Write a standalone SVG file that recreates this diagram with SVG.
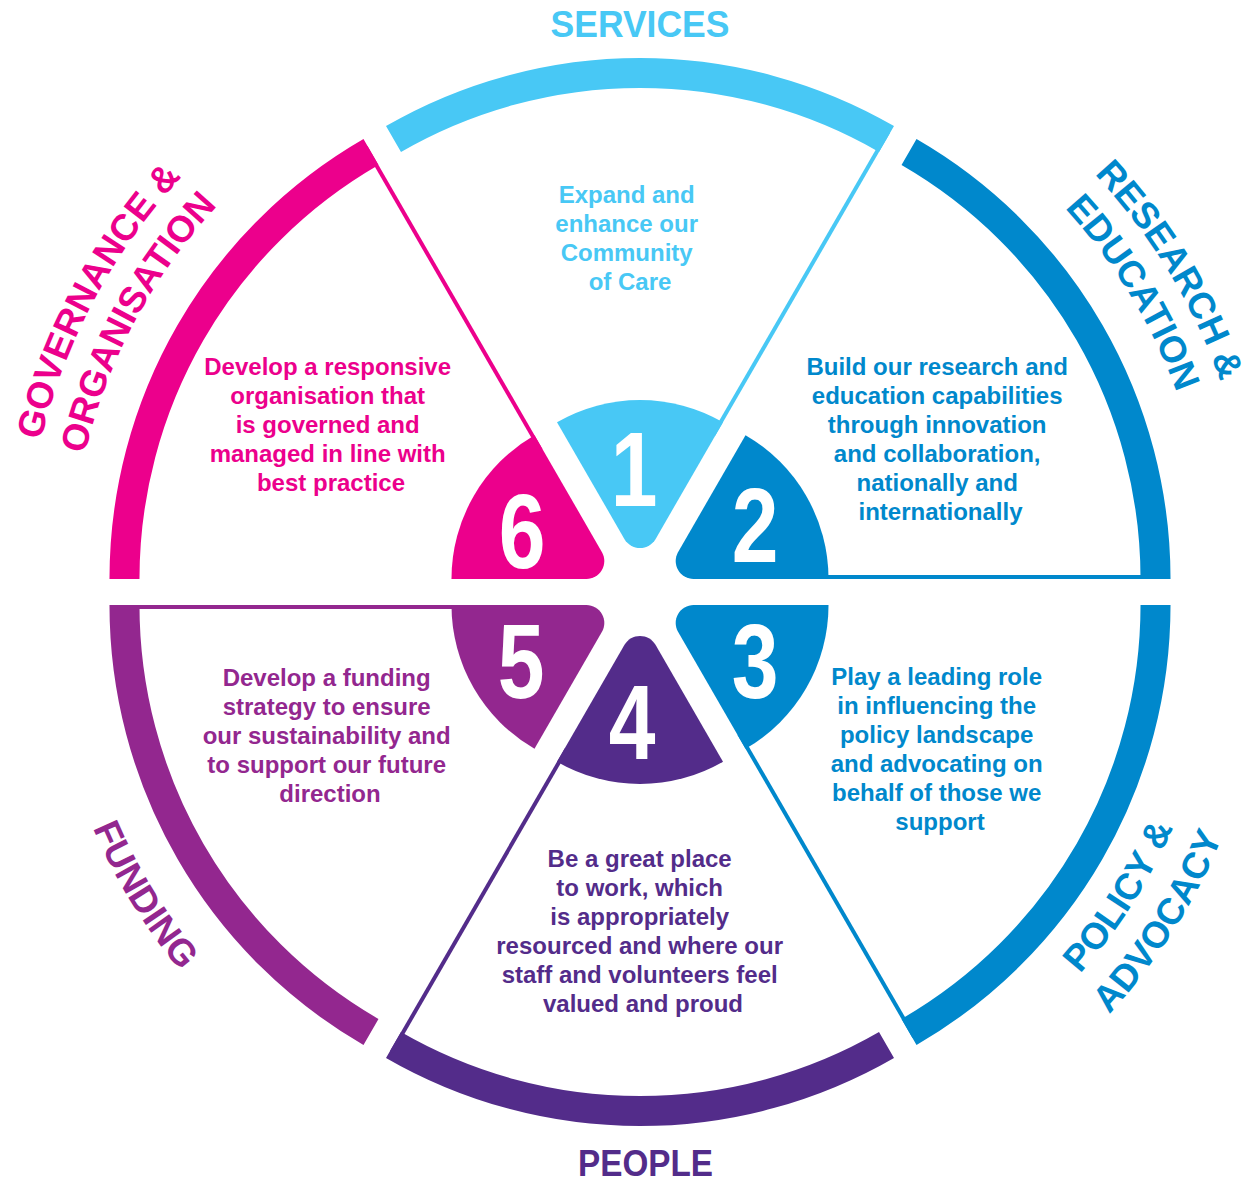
<svg xmlns="http://www.w3.org/2000/svg" xmlns:xlink="http://www.w3.org/1999/xlink" width="1244" height="1179" viewBox="0 0 1244 1179">
<style>
  .arc{fill:none;stroke-width:30}
  .edge{fill:none;stroke-width:4}
  .t{font-family:"Liberation Sans",Arial,sans-serif;font-weight:bold}
  .num{font-size:105px;fill:#ffffff;text-anchor:middle}
  .body{font-size:24px;text-anchor:middle}
  .cat{font-size:37px}
  .c1{fill:#48C8F5}.s1{stroke:#48C8F5}
  .c2{fill:#0088CC}.s2{stroke:#0088CC}
  .c4{fill:#532C8A}.s4{stroke:#532C8A}
  .c5{fill:#93278F}.s5{stroke:#93278F}
  .c6{fill:#EC008C}.s6{stroke:#EC008C}
</style>
<defs>
  <path id="arcShape" d="M-246.5,-426.95 A493,493 0 0 1 246.5,-426.95"/>
  <path id="edgeLine" d="M73.27,-130.9 L248.27,-434"/>
  <path id="numShape" d="M-15.5,-26.85 L-83,-143.76 A166,166 0 0 1 83,-143.76 L15.5,-26.85 A18,18 0 0 1 -15.5,-26.85 Z"/>
  <path id="p-research" d="M946.8,59.8 A592,592 0 0 1 1254.3,565.6"/>
  <path id="p-education" d="M925.2,99.2 A547,547 0 0 1 1209.4,566.6"/>
  <path id="p-governance" d="M24.8,598.7 A593,593 0 0 1 304.2,75.5"/>
  <path id="p-organisation" d="M70.8,597.1 A547,547 0 0 1 328.5,114.6"/>
  <path id="p-policy" d="M919.7,1099.1 A557,557 0 0 0 1219,629.3"/>
  <path id="p-advocacy" d="M942.3,1142.5 A606,606 0 0 0 1267.9,631.4"/>
  <path id="p-funding" d="M47.7,619.9 A570,570 0 0 0 345.5,1105.9"/>
</defs>
<rect width="1244" height="1179" fill="#ffffff"/>

<g id="sector-1">
  <g transform="translate(640,566)">
    <use xlink:href="#arcShape" class="arc s1"/>
    <use xlink:href="#edgeLine" class="edge s1"/>
    <use xlink:href="#numShape" class="c1"/>
  </g>
  <text class="t num" transform="translate(634,506) scale(0.8,1)">1</text>
  <text class="t cat c1" x="640" y="37" text-anchor="middle" textLength="179" lengthAdjust="spacingAndGlyphs">SERVICES</text>
  <text class="t body c1">
    <tspan x="630" y="203">Expand and</tspan>
    <tspan x="630" y="232">enhance our</tspan>
    <tspan x="630" y="261">Community</tspan>
    <tspan x="630" y="290">of Care</tspan>
  </text>
</g>

<g id="sector-2">
  <g transform="translate(662.52,579) rotate(60)">
    <use xlink:href="#arcShape" class="arc s2"/>
    <use xlink:href="#edgeLine" class="edge s2"/>
    <use xlink:href="#numShape" class="c2"/>
  </g>
  <text class="t num" transform="translate(755,562) scale(0.8,1)">2</text>
  <text class="t cat c2" text-anchor="middle"><textPath xlink:href="#p-research" startOffset="50%">RESEARCH &amp;</textPath></text>
  <text class="t cat c2" text-anchor="middle"><textPath xlink:href="#p-education" startOffset="50%">EDUCATION</textPath></text>
  <text class="t body c2">
    <tspan x="940.5" y="375">Build our research and</tspan>
    <tspan x="940.5" y="404">education capabilities</tspan>
    <tspan x="940.5" y="433">through innovation</tspan>
    <tspan x="940.5" y="462">and collaboration,</tspan>
    <tspan x="940.5" y="491">nationally and</tspan>
    <tspan x="940.5" y="520">internationally</tspan>
  </text>
</g>

<g id="sector-3">
  <g transform="translate(662.52,605) rotate(120)">
    <use xlink:href="#arcShape" class="arc s2"/>
    <use xlink:href="#edgeLine" class="edge s2"/>
    <use xlink:href="#numShape" class="c2"/>
  </g>
  <text class="t num" transform="translate(755,698) scale(0.8,1)">3</text>
  <text class="t cat c2" text-anchor="middle"><textPath xlink:href="#p-policy" startOffset="50%">POLICY &amp;</textPath></text>
  <text class="t cat c2" text-anchor="middle"><textPath xlink:href="#p-advocacy" startOffset="50%">ADVOCACY</textPath></text>
  <text class="t body c2">
    <tspan x="940" y="685">Play a leading role</tspan>
    <tspan x="940" y="714">in influencing the</tspan>
    <tspan x="940" y="743">policy landscape</tspan>
    <tspan x="940" y="772">and advocating on</tspan>
    <tspan x="940" y="801">behalf of those we</tspan>
    <tspan x="940" y="830">support</tspan>
  </text>
</g>

<g id="sector-4">
  <g transform="translate(640,618) rotate(180)">
    <use xlink:href="#arcShape" class="arc s4"/>
    <use xlink:href="#edgeLine" class="edge s4"/>
    <use xlink:href="#numShape" class="c4"/>
  </g>
  <text class="t num" transform="translate(632,759) scale(0.8,1)">4</text>
  <text class="t cat c4" x="645.5" y="1176" text-anchor="middle" textLength="135" lengthAdjust="spacingAndGlyphs">PEOPLE</text>
  <text class="t body c4">
    <tspan x="643" y="867">Be a great place</tspan>
    <tspan x="643" y="896">to work, which</tspan>
    <tspan x="643" y="925">is appropriately</tspan>
    <tspan x="643" y="954">resourced and where our</tspan>
    <tspan x="643" y="983">staff and volunteers feel</tspan>
    <tspan x="643" y="1012">valued and proud</tspan>
  </text>
</g>

<g id="sector-5">
  <g transform="translate(617.48,605) rotate(240)">
    <use xlink:href="#arcShape" class="arc s5"/>
    <use xlink:href="#edgeLine" class="edge s5"/>
    <use xlink:href="#numShape" class="c5"/>
  </g>
  <text class="t num" transform="translate(521,698) scale(0.8,1)">5</text>
  <text class="t cat c5" text-anchor="middle"><textPath xlink:href="#p-funding" startOffset="50%">FUNDING</textPath></text>
  <text class="t body c5">
    <tspan x="330" y="686">Develop a funding</tspan>
    <tspan x="330" y="715">strategy to ensure</tspan>
    <tspan x="330" y="744">our sustainability and</tspan>
    <tspan x="330" y="773">to support our future</tspan>
    <tspan x="330" y="802">direction</tspan>
  </text>
</g>

<g id="sector-6">
  <g transform="translate(617.48,579) rotate(300)">
    <use xlink:href="#arcShape" class="arc s6"/>
    <use xlink:href="#edgeLine" class="edge s6"/>
    <use xlink:href="#numShape" class="c6"/>
  </g>
  <text class="t num" transform="translate(522,568) scale(0.8,1)">6</text>
  <text class="t cat c6" text-anchor="middle"><textPath xlink:href="#p-governance" startOffset="50%">GOVERNANCE &amp;</textPath></text>
  <text class="t cat c6" text-anchor="middle"><textPath xlink:href="#p-organisation" startOffset="50%">ORGANISATION</textPath></text>
  <text class="t body c6">
    <tspan x="331" y="375">Develop a responsive</tspan>
    <tspan x="331" y="404">organisation that</tspan>
    <tspan x="331" y="433">is governed and</tspan>
    <tspan x="331" y="462">managed in line with</tspan>
    <tspan x="331" y="491">best practice</tspan>
  </text>
</g>

<g id="connectors"></g>
</svg>
